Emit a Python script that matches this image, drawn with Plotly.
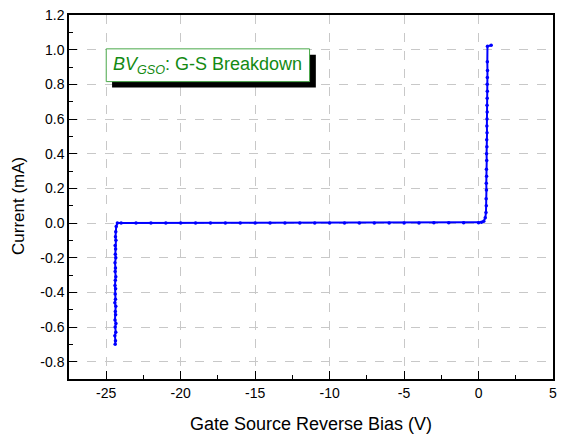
import plotly.graph_objects as go

# Reverse (G-S breakdown) branch near -24.4 V
x_rev = [-24.40, -24.38, -24.42, -24.36, -24.40, -24.35, -24.41, -24.37, -24.39, -24.36,
         -24.42, -24.38, -24.40, -24.37, -24.41, -24.39, -24.36, -24.40, -24.38, -24.41,
         -24.36, -24.39, -24.37, -24.40, -24.35, -24.38, -24.36, -24.33, -24.25]
y_rev = [-0.70, -0.68, -0.65, -0.63, -0.60, -0.58, -0.56, -0.53, -0.51, -0.48,
         -0.46, -0.44, -0.41, -0.38, -0.36, -0.33, -0.31, -0.28, -0.26, -0.23,
         -0.20, -0.18, -0.15, -0.13, -0.10, -0.08, -0.05, -0.02, 0.00]
# Flat leakage region
x_flat = [-24.0, -23.0, -22.0, -21.0, -20.0, -19.0, -18.0, -17.0, -16.0, -15.0, -14.0,
          -13.0, -12.0, -11.0, -10.0, -9.0, -8.0, -7.0, -6.0, -5.0, -4.0, -3.0, -2.0,
          -1.0, 0.0, 0.2, 0.35]
y_flat = [0.000, 0.000, 0.000, 0.000, 0.000, 0.000, 0.000, 0.000, 0.000, 0.000, 0.000,
          0.000, 0.000, 0.000, 0.000, 0.000, 0.000, 0.000, 0.000, 0.000, 0.000, 0.001, 0.001,
          0.001, 0.002, 0.004, 0.010]
# Forward branch near +0.55 V
x_fwd = [0.45, 0.50, 0.52, 0.51, 0.53, 0.52, 0.54, 0.53, 0.55, 0.54, 0.56, 0.55, 0.57,
         0.56, 0.57, 0.58, 0.57, 0.58, 0.59, 0.58, 0.59, 0.60, 0.59, 0.60, 0.85]
y_fwd = [0.03, 0.06, 0.10, 0.14, 0.19, 0.23, 0.27, 0.31, 0.36, 0.40, 0.44, 0.48, 0.52,
         0.56, 0.60, 0.64, 0.68, 0.72, 0.76, 0.80, 0.84, 0.88, 0.93, 1.02, 1.025]

x_vals = x_rev + x_flat + x_fwd
y_vals = y_rev + y_flat + y_fwd

x_ticks = [-25, -20, -15, -10, -5, 0, 5]
y_ticks = [-0.8, -0.6, -0.4, -0.2, 0.0, 0.2, 0.4, 0.6, 0.8, 1.0, 1.2]

FONT = "Arial, Liberation Sans, sans-serif"

fig = go.Figure()
fig.add_trace(go.Scatter(
    x=x_vals, y=y_vals, mode="lines+markers",
    line=dict(color="#0000FF", width=2),
    marker=dict(color="#0000FF", size=3.5),
    showlegend=False,
))

axis_common = dict(
    showline=True, linecolor="black", linewidth=1.5, mirror=True,
    ticks="inside", ticklen=8, tickwidth=1.3, tickcolor="black",
    showgrid=True, gridcolor="#c8c8c8", griddash="dash", gridwidth=1,
    zeroline=False,
    tickfont=dict(family=FONT, size=14, color="black"),
)

fig.update_xaxes(
    range=[-27.5, 5], tickvals=x_ticks, ticktext=[str(v) for v in x_ticks],
    title=dict(text="Gate Source Reverse Bias (V)", font=dict(family=FONT, size=18, color="black"), standoff=18),
    minor=dict(ticks="inside", ticklen=4, tickwidth=1.3, tickcolor="black", showgrid=False, tick0=0, dtick=2.5),
    **axis_common,
)
fig.update_yaxes(
    range=[-0.9, 1.2], tickvals=y_ticks, ticktext=[f"{v:.1f}" for v in y_ticks],
    minor=dict(ticks="inside", ticklen=4, tickwidth=1.3, tickcolor="black", showgrid=False, tick0=0, dtick=0.1),
    **axis_common,
)

# Y-axis title placed as annotation (slightly below plot centre, as in reference)
fig.add_annotation(xref="paper", yref="paper", x=-0.1056, y=0.475,
                   text="Current (mA)", textangle=-90, showarrow=False,
                   xanchor="center", yanchor="middle",
                   font=dict(family=FONT, size=17, color="black"))

# Label box with drop shadow
fig.add_shape(type="rect", xref="paper", yref="paper",
              x0=0.089, x1=0.510, y0=0.801, y1=0.891,
              fillcolor="black", line=dict(width=0), layer="above")
fig.add_shape(type="rect", xref="paper", yref="paper",
              x0=0.0769, x1=0.497, y0=0.817, y1=0.907,
              fillcolor="white", line=dict(color="#4aa84a", width=1), layer="above")
fig.add_annotation(xref="paper", yref="paper", x=0.287, y=0.862,
                   text="<i>BV</i><sub><i>GSO</i></sub>: G-S Breakdown",
                   showarrow=False, xanchor="center", yanchor="middle",
                   font=dict(family=FONT, size=18, color="#138a13"))

fig.update_layout(
    width=561, height=435,
    margin=dict(l=69, r=4, t=15, b=53),
    plot_bgcolor="white", paper_bgcolor="white",
)

fig.write_html("out.html")
